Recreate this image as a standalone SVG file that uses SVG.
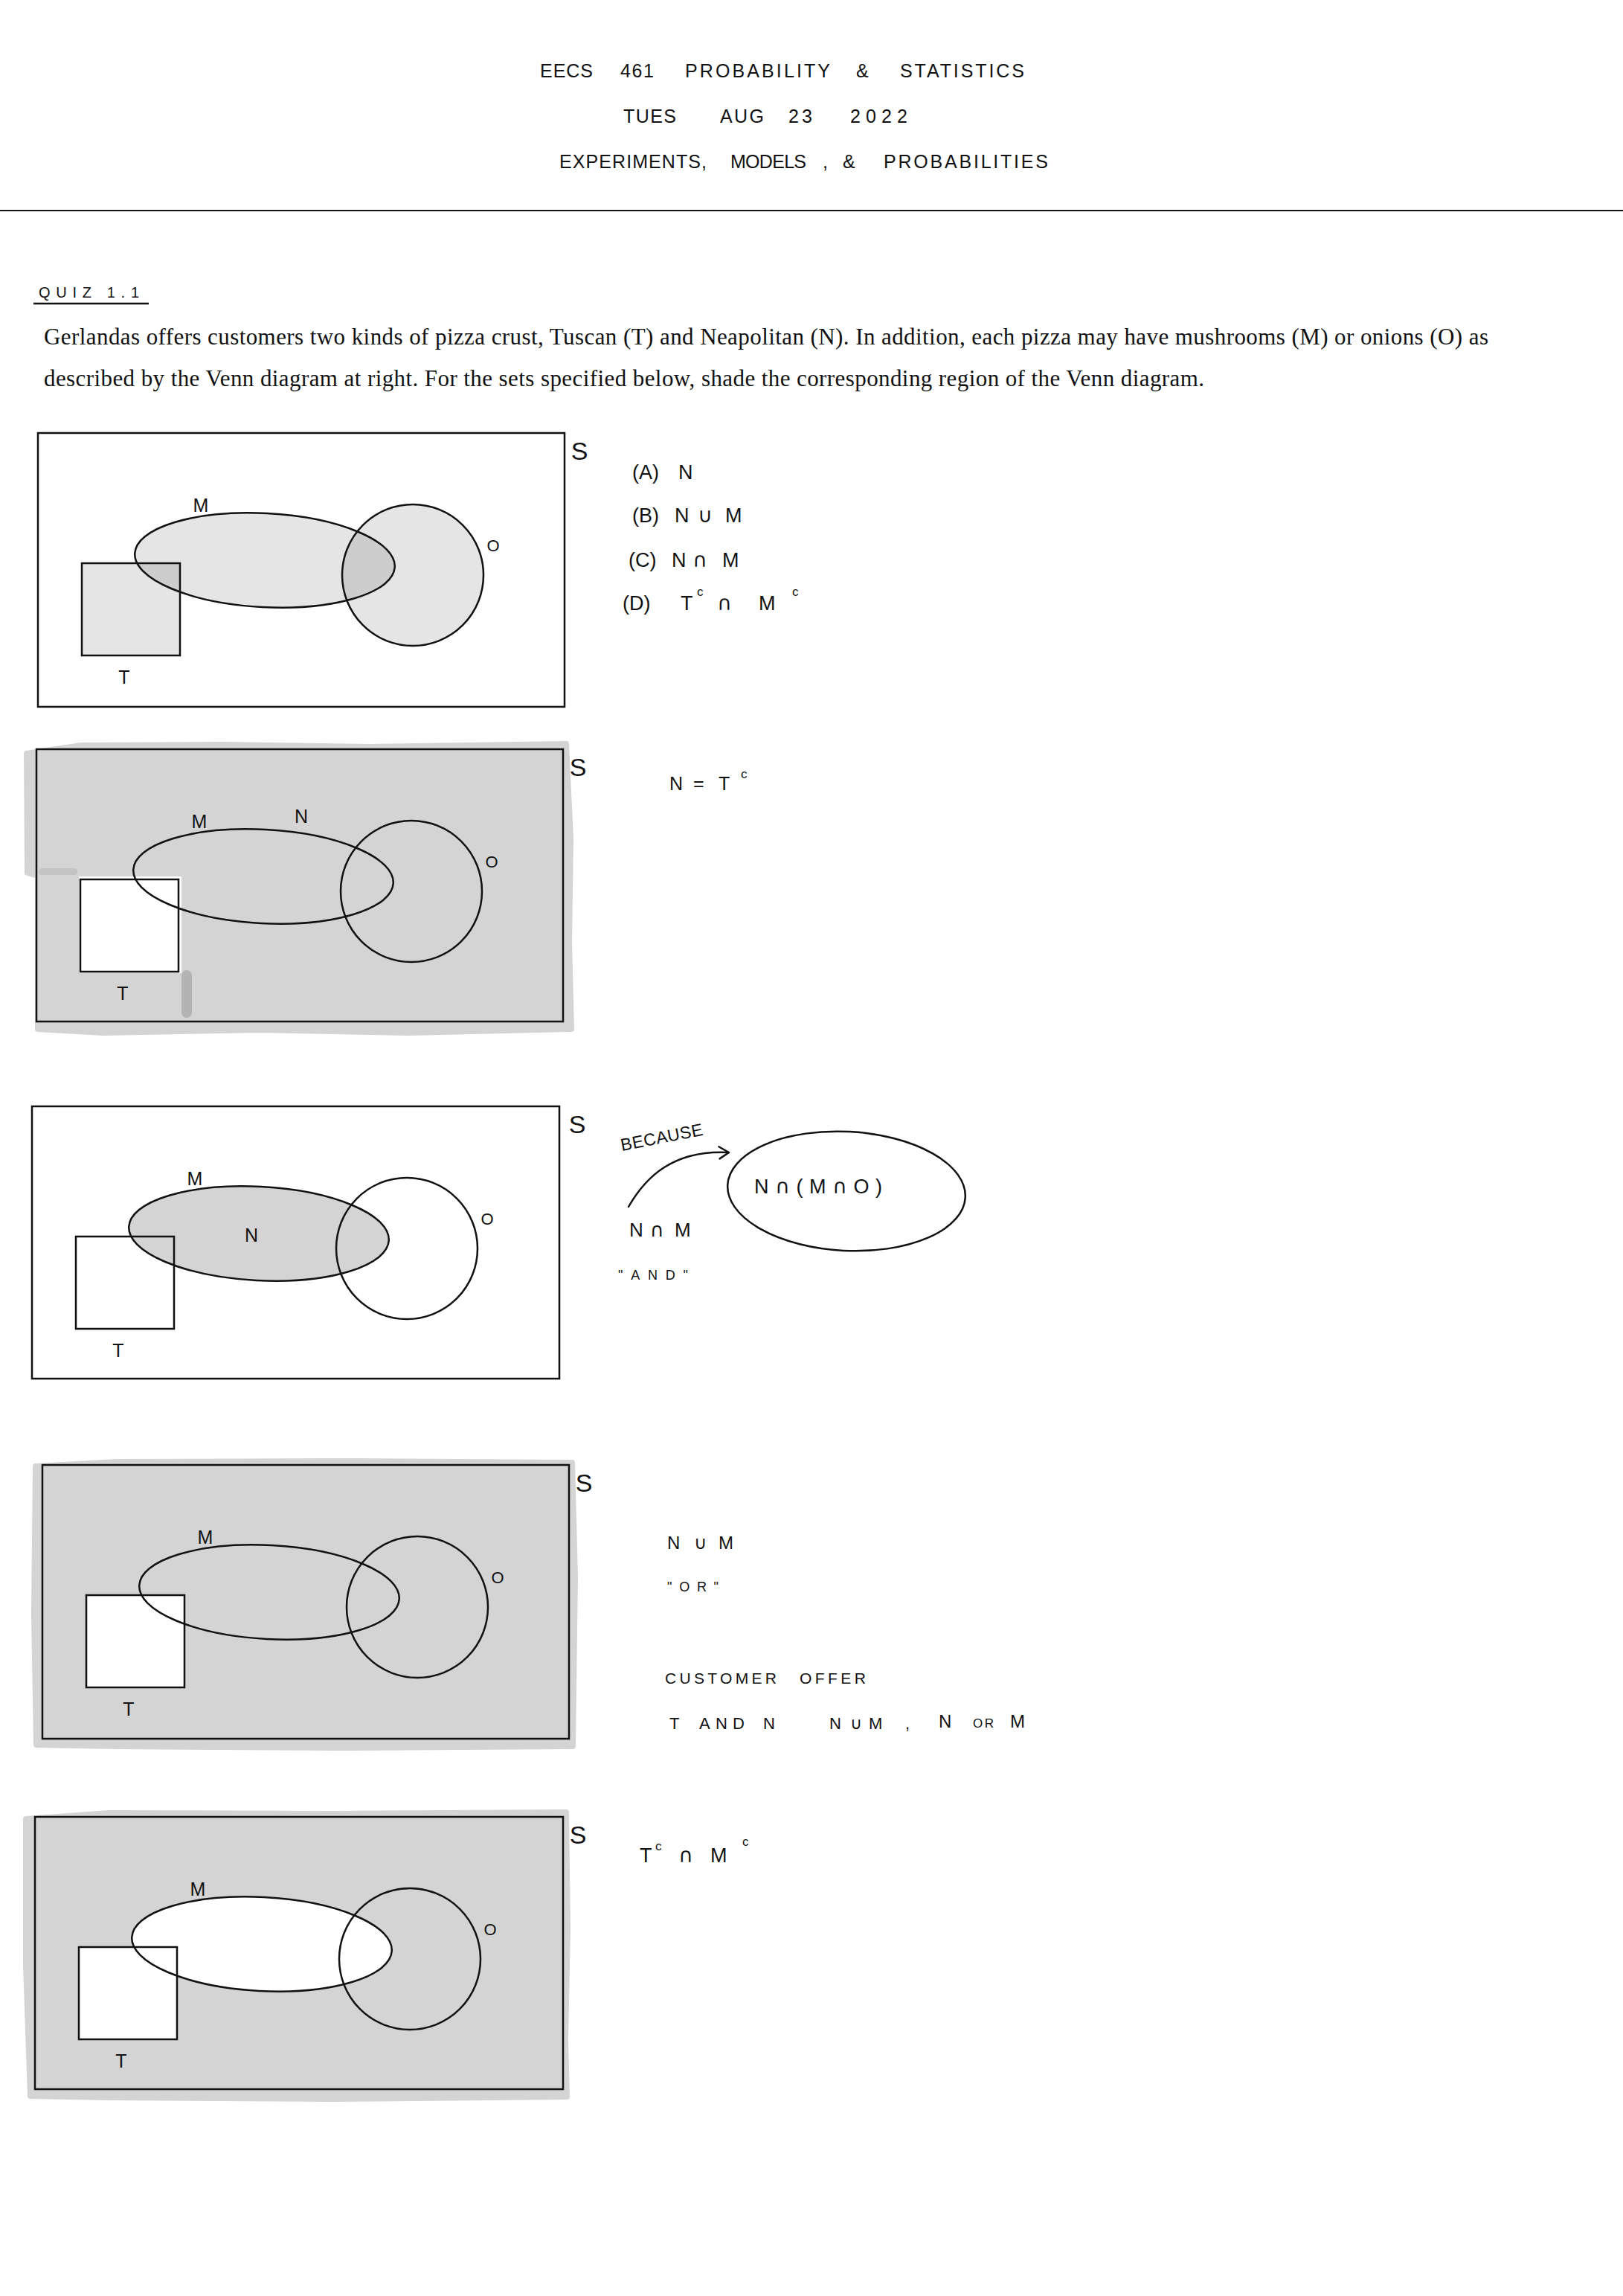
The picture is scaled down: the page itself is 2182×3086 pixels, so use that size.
<svg xmlns="http://www.w3.org/2000/svg" xmlns:xlink="http://www.w3.org/1999/xlink" width="2182" height="3086" viewBox="0 0 2182 3086">
<style>
.hw{font-family:"Liberation Sans","DejaVu Sans",sans-serif;fill:#111}
.sym{font-family:"DejaVu Sans","Liberation Sans",sans-serif;fill:#111}
.ser{font-family:"Liberation Serif","Times New Roman",serif;fill:#111}
.frame{fill:none;stroke:#111;stroke-width:2.5}
.line{fill:none;stroke:#111;stroke-width:2.5;stroke-linecap:round;stroke-linejoin:round}
.shade{fill:#d4d4d4;stroke:#d4d4d4;stroke-width:8;stroke-linejoin:round}
.lbl{font-size:25px;text-anchor:middle}
.slbl{font-size:34px;text-anchor:middle}
.olbl{font-size:22px;text-anchor:middle}
.sup{font-size:17px}
</style>
<defs>
<rect id="sq" x="59" y="175" width="132" height="124"/>
<ellipse id="em" cx="305" cy="171" rx="175" ry="63" transform="rotate(3 305 171)"/>
<circle id="co" cx="504" cy="191" r="95"/>
<marker id="vhead" markerWidth="20" markerHeight="20" refX="16" refY="8" orient="auto" markerUnits="userSpaceOnUse">
<path d="M2,1 L16,8 L4,17" fill="none" stroke="#111" stroke-width="2.5" stroke-linecap="round" stroke-linejoin="round"/>
</marker>
</defs>
<rect x="0" y="0" width="2182" height="3086" fill="#fff"/>

<g id="header">
<text class="hw" font-size="25" y="104"><tspan x="726" textLength="71">EECS</tspan><tspan x="834" textLength="45">461</tspan><tspan x="921" textLength="195">PROBABILITY</tspan><tspan x="1151" textLength="26">&amp;</tspan><tspan x="1210" textLength="167">STATISTICS</tspan></text>
<text class="hw" font-size="25" y="165"><tspan x="838" textLength="71">TUES</tspan><tspan x="968" textLength="59">AUG</tspan><tspan x="1060" textLength="32">23</tspan><tspan x="1143" textLength="77">2022</tspan></text>
<text class="hw" font-size="25" y="226"><tspan x="752" textLength="198">EXPERIMENTS,</tspan><tspan x="982" textLength="102">MODELS</tspan><tspan x="1106">,</tspan><tspan x="1133" textLength="24">&amp;</tspan><tspan x="1188" textLength="221">PROBABILITIES</tspan></text>
<line x1="0" y1="283" x2="2182" y2="283" stroke="#111" stroke-width="2"/>
</g>

<g id="quiz">
<text class="hw" font-size="20" x="52" y="400" textLength="135">QUIZ  1.1</text>
<line x1="45" y1="408" x2="200" y2="408" stroke="#111" stroke-width="2.5"/>
<text class="ser" font-size="31" x="59" y="463" textLength="1942" lengthAdjust="spacing">Gerlandas offers customers two kinds of pizza crust, Tuscan (T) and Neapolitan (N). In addition, each pizza may have mushrooms (M) or onions (O) as</text>
<text class="ser" font-size="31" x="59" y="519" textLength="1560" lengthAdjust="spacing">described by the Venn diagram at right. For the sets specified below, shade the corresponding region of the Venn diagram.</text>
</g>

<!-- Panel 1 -->
<g id="panel1" transform="translate(51,582)">
<rect x="0" y="0" width="708" height="368" fill="#fff"/>
<use xlink:href="#sq" href="#sq" fill="#000" fill-opacity="0.1"/>
<use xlink:href="#em" href="#em" fill="#000" fill-opacity="0.1"/>
<use xlink:href="#co" href="#co" fill="#000" fill-opacity="0.1"/>
<rect class="frame" x="0" y="0" width="708" height="368"/>
<use xlink:href="#sq" href="#sq" class="frame"/>
<use xlink:href="#em" href="#em" class="frame"/>
<use xlink:href="#co" href="#co" class="frame"/>
<text class="hw lbl" x="219" y="106">M</text>
<text class="hw olbl" x="612" y="159">O</text>
<text class="hw lbl" x="116" y="337">T</text>
<text class="hw slbl" x="728" y="36">S</text>
</g>
<g id="notes1" class="hw" font-size="27">
<text y="644"><tspan x="850">(A)</tspan><tspan x="912">N</tspan></text>
<text y="702"><tspan x="850">(B)</tspan><tspan x="907">N</tspan><tspan class="sym" x="938">∪</tspan><tspan x="975">M</tspan></text>
<text y="762"><tspan x="845">(C)</tspan><tspan x="903">N</tspan><tspan class="sym" x="931">∩</tspan><tspan x="971">M</tspan></text>
<text y="820"><tspan x="837">(D)</tspan><tspan x="915">T</tspan><tspan class="sym" x="964">∩</tspan><tspan x="1020">M</tspan></text>
<text class="sup" x="937" y="801">c</text>
<text class="sup" x="1065" y="801">c</text>
</g>

<!-- Panel 2 -->
<g id="panel2" transform="translate(49,1007)">
<path class="shade" d="M -13,6 L 60,-5 L 250,-6 L 450,-3 L 712,-7 L 718,120 L 716,260 L 719,376 L 500,381 L 300,377 L 90,381 L 2,376 L 2,170 L -12,166 Z"/>
<rect x="3" y="160" width="52" height="9" rx="4" fill="#c4c4c4"/>
<rect x="195" y="297" width="14" height="64" rx="7" fill="#b3b3b3"/>
<rect x="57" y="171" width="138" height="130" fill="#fff"/>
<rect class="frame" x="0" y="0" width="708" height="366"/>
<use xlink:href="#sq" href="#sq" class="frame"/>
<use xlink:href="#em" href="#em" class="frame"/>
<use xlink:href="#co" href="#co" class="frame"/>
<text class="hw lbl" x="219" y="106">M</text>
<text class="hw lbl" x="356" y="99">N</text>
<text class="hw olbl" x="612" y="159">O</text>
<text class="hw lbl" x="116" y="337">T</text>
<text class="hw slbl" x="728" y="36">S</text>
</g>
<g id="notes2" class="hw" font-size="25">
<text y="1062"><tspan x="900">N</tspan><tspan x="932">=</tspan><tspan x="966">T</tspan></text>
<text class="sup" x="996" y="1046">c</text>
</g>

<!-- Panel 3 -->
<g id="panel3" transform="translate(43,1487)">
<rect x="0" y="0" width="709" height="366" fill="#fff"/>
<use xlink:href="#em" href="#em" fill="#d4d4d4"/>
<rect class="frame" x="0" y="0" width="709" height="366"/>
<use xlink:href="#sq" href="#sq" class="frame"/>
<use xlink:href="#em" href="#em" class="frame"/>
<use xlink:href="#co" href="#co" class="frame"/>
<text class="hw lbl" x="219" y="106">M</text>
<text class="hw lbl" x="295" y="182">N</text>
<text class="hw olbl" x="612" y="159">O</text>
<text class="hw lbl" x="116" y="337">T</text>
<text class="hw slbl" x="733" y="36">S</text>
</g>
<g id="notes3" class="hw">
<text font-size="23" x="836" y="1547" textLength="112" transform="rotate(-11 836 1547)">BECAUSE</text>
<g id="bignode">
<ellipse cx="1138" cy="1601" rx="160" ry="80" transform="rotate(3 1138 1601)" class="frame"/>
<text font-size="27" x="1014" y="1604" textLength="172"><tspan>N</tspan><tspan class="sym">∩</tspan><tspan>(M</tspan><tspan class="sym">∩</tspan><tspan>O)</tspan></text>
</g>
<text font-size="26" y="1662"><tspan x="846">N</tspan><tspan class="sym" x="874">∩</tspan><tspan x="907">M</tspan></text>
<text font-size="18" x="831" y="1720" textLength="94">"AND"</text>
</g>

<!-- Panel 4 -->
<g id="panel4" transform="translate(57,1969)">
<path class="shade" d="M -9,2 L 100,-4 L 400,-5 L 712,-3 L 716,150 L 714,300 L 713,378 L 400,380 L 100,378 L -8,376 L -11,200 Z"/>
<rect x="59" y="175" width="132" height="124" fill="#fff"/>
<rect class="frame" x="0" y="0" width="708" height="368"/>
<use xlink:href="#sq" href="#sq" class="frame"/>
<use xlink:href="#em" href="#em" class="frame"/>
<use xlink:href="#co" href="#co" class="frame"/>
<text class="hw lbl" x="219" y="106">M</text>
<text class="hw olbl" x="612" y="159">O</text>
<text class="hw lbl" x="116" y="337">T</text>
<text class="hw slbl" x="728" y="36">S</text>
</g>
<g id="notes4" class="hw">
<text font-size="24" y="2082"><tspan x="897">N</tspan><tspan class="sym" x="933">∪</tspan><tspan x="966">M</tspan></text>
<text font-size="18" x="897" y="2139" textLength="69">"OR"</text>
<text font-size="21" y="2263"><tspan x="894" textLength="150">CUSTOMER</tspan><tspan x="1075" textLength="89">OFFER</tspan></text>
<text font-size="22" y="2324"><tspan x="900">T</tspan><tspan x="940" textLength="61">AND</tspan><tspan x="1026">N</tspan><tspan x="1115">N</tspan><tspan class="sym" x="1143">∪</tspan><tspan x="1168">M</tspan><tspan x="1217">,</tspan></text>
<text font-size="24" y="2322"><tspan x="1262">N</tspan><tspan font-size="17" x="1308" textLength="28">OR</tspan><tspan x="1358">M</tspan></text>
</g>

<!-- Panel 5 -->
<g id="panel5" transform="translate(47,2442)">
<path class="shade" d="M -12,3 L 100,-5 L 400,-4 L 714,-6 L 716,150 L 713,300 L 715,376 L 400,379 L 100,377 L -6,375 L -12,200 Z"/>
<rect x="59" y="175" width="132" height="124" fill="#fff"/>
<use xlink:href="#em" href="#em" fill="#fff"/>
<rect class="frame" x="0" y="0" width="710" height="366"/>
<use xlink:href="#sq" href="#sq" class="frame"/>
<use xlink:href="#em" href="#em" class="frame"/>
<use xlink:href="#co" href="#co" class="frame"/>
<text class="hw lbl" x="219" y="106">M</text>
<text class="hw olbl" x="612" y="159">O</text>
<text class="hw lbl" x="116" y="337">T</text>
<text class="hw slbl" x="730" y="36">S</text>
</g>
<g id="notes5" class="hw" font-size="27">
<text y="2503"><tspan x="860">T</tspan><tspan class="sym" x="912">∩</tspan><tspan x="955">M</tspan></text>
<text class="sup" x="881" y="2487">c</text>
<text class="sup" x="998" y="2481">c</text>
</g>

<g id="connectors">
<path class="line" d="M845,1622 C868,1582 905,1545 980,1549" marker-end="url(#vhead)"/>
</g>
</svg>
